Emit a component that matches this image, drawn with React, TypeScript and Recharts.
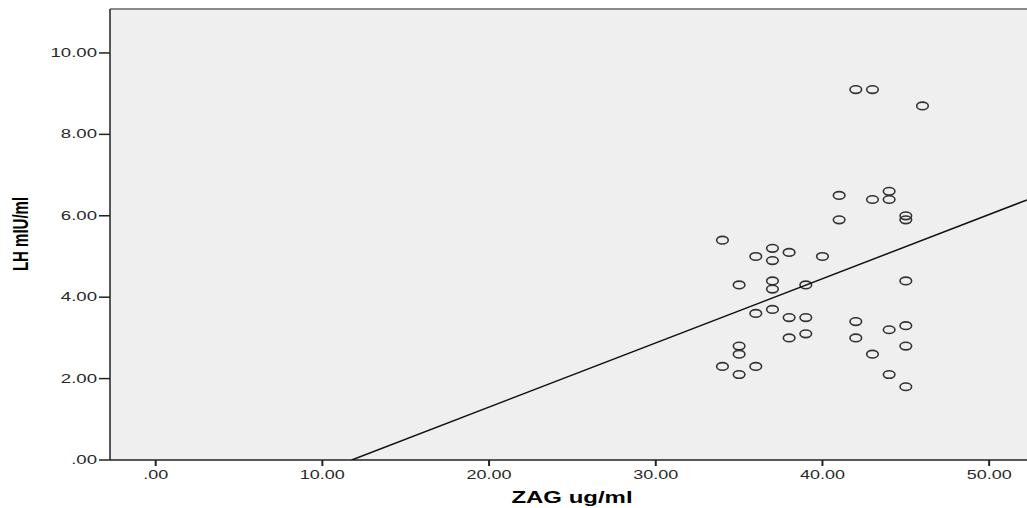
import React from "react";
import {
  ScatterChart,
  Scatter,
  XAxis,
  YAxis,
  CartesianGrid,
  ReferenceLine,
} from "recharts";

// ZAG ug/ml
const zagValues = [
  42, 43, 46, 44, 41, 43, 44, 45, 45, 41, 34, 37, 38, 36, 40, 37, 45, 37, 35, 39,
  37, 37, 36, 38, 39, 42, 45, 44, 39, 38, 42, 35, 45, 35, 43, 34, 36, 35, 44, 45,
];
// LH mIU/ml
const lhValues = [
  9.1, 9.1, 8.7, 6.6, 6.5, 6.4, 6.4, 6.0, 5.9, 5.9, 5.4, 5.2, 5.1, 5.0, 5.0, 4.9,
  4.4, 4.4, 4.3, 4.3, 4.2, 3.7, 3.6, 3.5, 3.5, 3.4, 3.3, 3.2, 3.1, 3.0, 3.0, 2.8,
  2.8, 2.6, 2.6, 2.3, 2.3, 2.1, 2.1, 1.8,
];
// fit line end points
const fitX = [11.76, 52.27];
const fitY = [0, 6.39];

const xTicks = [0, 10, 20, 30, 40, 50];
const yTicks = [0, 2, 4, 6, 8, 10];

const points = zagValues.map((x, i) => ({ x, y: lhValues[i] }));
const fitLine = fitX.map((x, i) => ({ x, y: fitY[i] }));

const fmt = (v: number) => (v === 0 ? ".00" : v.toFixed(2));
const FONT = "'Liberation Sans', Arial, sans-serif";

const XTick = ({ x, y, payload }: any) => (
  <g transform={`translate(${x},${y}) scale(1.5,1)`}>
    <text x={0} y={11} textAnchor="middle" fontSize={12} fill="#2a2a2a" fontFamily={FONT}>
      {fmt(payload.value)}
    </text>
  </g>
);

const YTick = ({ x, y, payload }: any) => (
  <g transform={`translate(${x},${y}) scale(1.55,1)`}>
    <text x={0} y={4} textAnchor="end" fontSize={12} fill="#2a2a2a" fontFamily={FONT}>
      {fmt(payload.value)}
    </text>
  </g>
);

const Ring = ({ cx, cy }: any) => (
  <ellipse cx={cx} cy={cy} rx={5.8} ry={3.8} fill="none" stroke="#333" strokeWidth={1.6} />
);

export default function App() {
  return (
    <div style={{ position: "absolute", left: 0, top: 0, width: 1027, height: 508, background: "#fff" }}>
      <ScatterChart width={1027} height={508} margin={{ top: 9, right: 0, bottom: 0, left: 0 }}>
        <CartesianGrid horizontal={false} vertical={false} fill="#efefef" stroke="none" />
        <XAxis
          type="number"
          dataKey="x"
          domain={[-2.74, 52.27]}
          ticks={xTicks}
          allowDataOverflow
          height={48}
          tickSize={6}
          tickLine={{ stroke: "#222", strokeWidth: 2 }}
          axisLine={{ stroke: "#222", strokeWidth: 1.5 }}
          tick={<XTick />}
        />
        <YAxis
          type="number"
          dataKey="y"
          domain={[0, 11.08]}
          ticks={yTicks}
          allowDataOverflow
          width={110}
          tickSize={11}
          tickMargin={2}
          tickLine={{ stroke: "#222", strokeWidth: 1.5 }}
          axisLine={{ stroke: "#222", strokeWidth: 1.5 }}
          tick={<YTick />}
        />
        <ReferenceLine y={11.08} stroke="#666" strokeWidth={1.5} />
        <Scatter data={points} shape={<Ring />} isAnimationActive={false} />
        <Scatter
          data={fitLine}
          line={{ stroke: "#111", strokeWidth: 1.5 }}
          shape={() => <g />}
          isAnimationActive={false}
        />
      </ScatterChart>
      <svg width={1027} height={508} style={{ position: "absolute", left: 0, top: 0, pointerEvents: "none" }}>
        <g transform="translate(572,503) scale(1.5,1)">
          <text textAnchor="middle" fontSize={16} fontWeight="bold" fill="#000" fontFamily={FONT}>
            ZAG ug/ml
          </text>
        </g>
        <g transform="translate(28,234) rotate(-90) scale(1,1.45)">
          <text textAnchor="middle" fontSize={15} fontWeight="bold" fill="#000" fontFamily={FONT}>
            LH mIU/ml
          </text>
        </g>
      </svg>
    </div>
  );
}
